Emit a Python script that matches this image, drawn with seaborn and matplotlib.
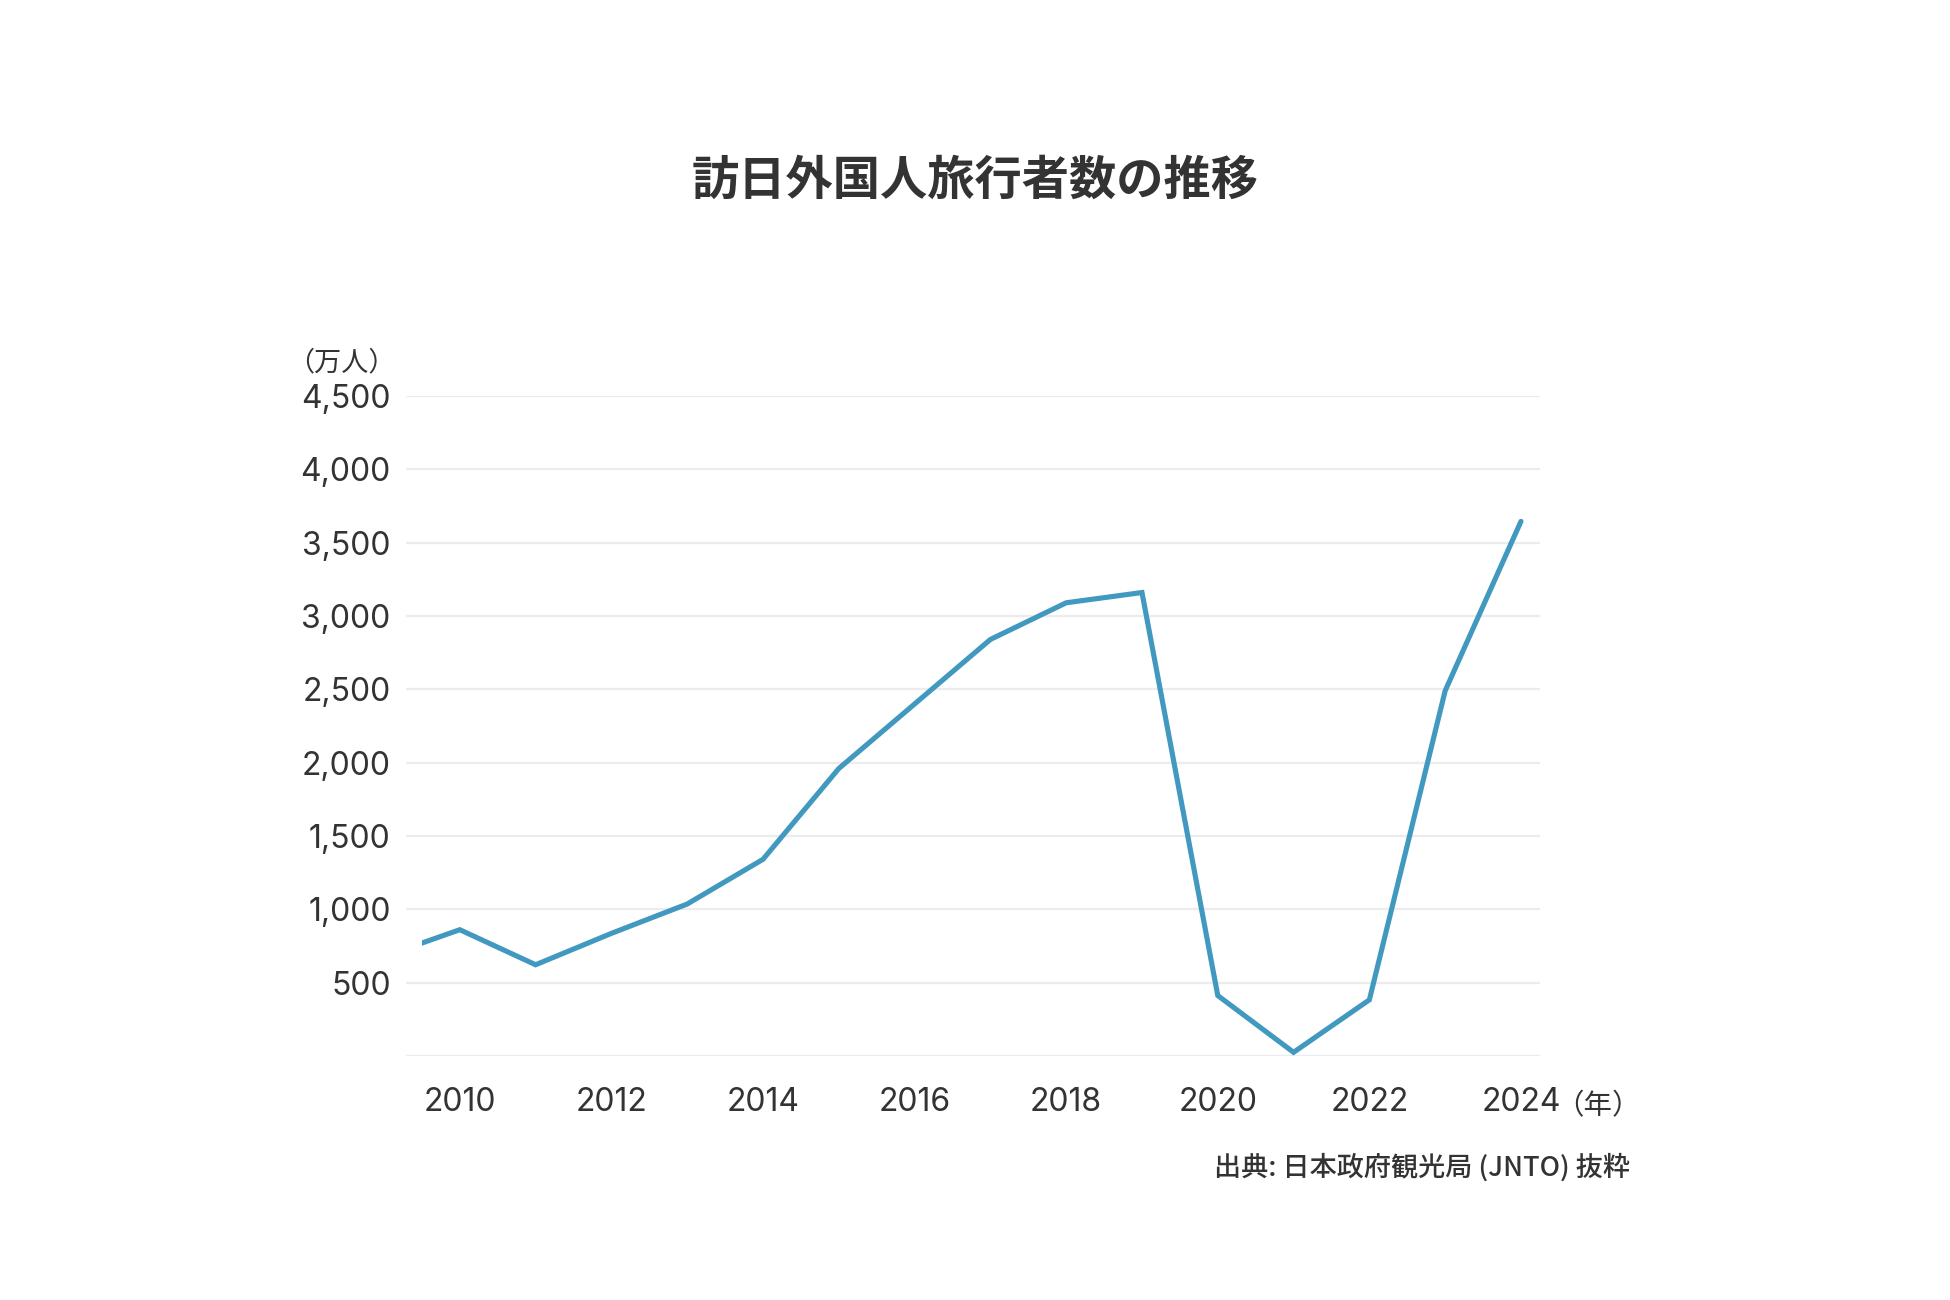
import matplotlib.pyplot as plt
import pandas as pd
import seaborn as sns
from matplotlib.patches import Rectangle

years = list(range(2009, 2025))
visitors = [679, 861, 622, 836, 1036, 1341, 1960, 2400, 2840, 3090, 3160, 412, 25, 383, 2490, 3645]
y_ticks = [0, 500, 1000, 1500, 2000, 2500, 3000, 3500, 4000, 4500]
y_labels = ["", "500", "1,000", "1,500", "2,000", "2,500", "3,000", "3,500", "4,000", "4,500"]
x_ticks = [2010, 2012, 2014, 2016, 2018, 2020, 2022, 2024]

TITLE = "訪日外国人旅行者数の推移"
UNIT_Y = "（万人）"
UNIT_X = "（年）"
SOURCE = "出典: 日本政府観光局 (JNTO) 抜粋"

TEXT = "#333333"
LINE = "#4299c0"
NUM_FONT = ['Inter', 'Noto Sans CJK JP', 'DejaVu Sans']

sns.set_style("white")
plt.rcParams['font.family'] = ['Noto Sans CJK JP', 'DejaVu Sans']

df = pd.DataFrame({"year": years, "visitors": visitors})

fig = plt.figure(figsize=(19.5, 13), dpi=100)
ax = fig.add_axes([0.2082, 0.1877, 0.5815, 0.5077])

for y in y_ticks:
    ax.axhline(y, color="#ececec", lw=1.6, zorder=0)

sns.lineplot(data=df, x="year", y="visitors", ax=ax, color=LINE, linewidth=3.7)
line = ax.lines[-1]
line.set_solid_joinstyle("miter")
line.set_clip_path(Rectangle((2009.5, -1000), 30, 10000, transform=ax.transData))

ax.set_xlim(2009.29, 2024.25)
ax.set_ylim(0, 4500)
ax.set_xticks(x_ticks)
ax.set_xticklabels([str(x) for x in x_ticks], family=NUM_FONT)
ax.set_yticks(y_ticks)
ax.set_yticklabels(y_labels, family=NUM_FONT)
ax.tick_params(axis="x", length=0, pad=22, labelsize=23, labelcolor=TEXT)
ax.tick_params(axis="y", length=0, pad=11, labelsize=23, labelcolor=TEXT)
ax.set_xlabel("")
ax.set_ylabel("")
sns.despine(ax=ax, left=True, bottom=True)

fig.text(0.5, 0.861, TITLE, ha="center", va="center", fontsize=34, fontweight="bold", color=TEXT)
fig.text(0.2031, 0.7207, UNIT_Y, ha="right", va="center", fontsize=19.5, color=TEXT)
fig.text(0.7975, 0.149, UNIT_X, ha="left", va="center", fontsize=20.5, color=TEXT)
fig.text(0.836, 0.102, SOURCE, ha="right", va="center", fontsize=19.5, fontweight="medium", color=TEXT)

fig.savefig("out.png", dpi=100, facecolor="white")
